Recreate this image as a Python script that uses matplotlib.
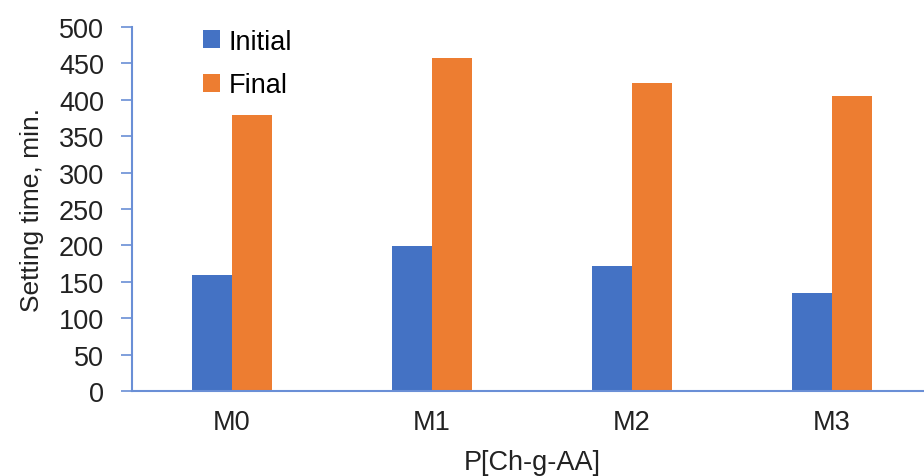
import numpy as np
import matplotlib
matplotlib.use('Agg')
from matplotlib import pyplot as plt

plt.rcParams['font.family'] = ['Liberation Sans', 'DejaVu Sans']

categories = ['M0', 'M1', 'M2', 'M3']
initial = [160, 199, 172, 134]
final = [379, 458, 423, 405]

blue = '#4472C4'
orange = '#ED7D31'
axis_col = '#6A8FD6'

fig = plt.figure(figsize=(9.24, 4.77), dpi=100)
# plot area runs slightly past the right edge, like the original
ax = fig.add_axes([132/924, 1 - 392/477, 800/924, 364/477])

x = np.arange(len(categories))
w = 0.2
ax.bar(x - w/2, initial, w, color=blue, label='Initial')
ax.bar(x + w/2, final, w, color=orange, label='Final')

ax.set_xlim(-0.5, 3.5)
ax.set_ylim(0, 500)
ax.set_yticks(np.arange(0, 501, 50))
ax.set_xticks(x)
ax.set_xticklabels(categories)

for s in ['top', 'right']:
    ax.spines[s].set_visible(False)
ax.spines['left'].set_color(axis_col)
ax.spines['bottom'].set_color(axis_col)
ax.spines['left'].set_linewidth(1.5)
ax.spines['bottom'].set_linewidth(1.5)
ax.tick_params(axis='y', colors=axis_col, length=8, width=1.2, labelcolor='#222222', labelsize=19.5, pad=12)
ax.tick_params(axis='x', length=0, labelcolor='#222222', labelsize=19.5, pad=13)

ax.set_ylabel('Setting time, min.', fontsize=19, color='#222222')
ax.set_xlabel('P[Ch-g-AA]', fontsize=19.5, color='#222222', labelpad=10)
ax.yaxis.set_label_coords(-0.11, 0.5)

ax.legend(loc='upper left', bbox_to_anchor=(0.075, 1.025), frameon=False, fontsize=19.5,
          handlelength=0.65, handleheight=0.65, handletextpad=0.3, labelspacing=0.65,
          borderaxespad=0)

plt.savefig('out.png', dpi=100)
